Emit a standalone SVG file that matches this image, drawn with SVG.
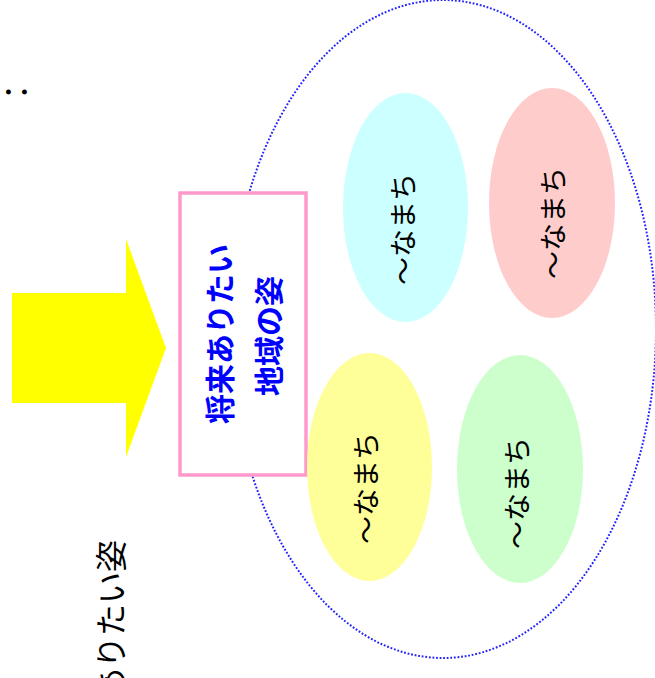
<svg xmlns="http://www.w3.org/2000/svg" width="655" height="678" viewBox="0 0 655 678">
  <style>
    .jp { font-family: "Noto Sans CJK JP", "Noto Sans", sans-serif; }
    .machi { font-size: 28px; fill: #000; dominant-baseline: central; text-anchor: middle; }
    .title { font-size: 30px; font-weight: bold; fill: #0000ff; dominant-baseline: central; text-anchor: middle; }
    .bubble { stroke: none; }
  </style>
  <rect width="655" height="678" fill="#ffffff"/>

  <!-- leftover heading text at the edges -->
  <g id="heading">
    <text class="jp" font-size="32" fill="#000" dominant-baseline="central" text-anchor="middle" transform="translate(14,92) rotate(-90)">：</text>
    <text class="jp" font-size="32" fill="#000" dominant-baseline="central" text-anchor="end" transform="translate(109,540) rotate(-90)">ありたい姿</text>
  </g>

  <!-- big arrow pointing right -->
  <g id="arrow">
    <polygon points="12,293 126,293 126,239 166,348 126,457 126,403 12,403" fill="#ffff00"/>
  </g>

  <!-- dotted boundary of the area -->
  <g id="area">
    <ellipse cx="443" cy="329" rx="213" ry="329" fill="none" stroke="#2222ff" stroke-width="2" stroke-dasharray="1.8 1.8"/>
  </g>

  <!-- goal box, drawn over the area boundary -->
  <g id="goal">
    <rect x="180" y="193" width="126" height="282" fill="#ffffff" stroke="#ff99cc" stroke-width="3.5"/>
    <text class="jp title" transform="translate(218,334) rotate(-90)">将来ありたい</text>
    <text class="jp title" transform="translate(267,336) rotate(-90)">地域の姿</text>
  </g>

  <g id="town-cyan">
    <ellipse class="bubble" cx="405.5" cy="207.5" rx="62.5" ry="114.5" fill="#ccffff"/>
    <text class="jp machi" transform="translate(402,229) rotate(-90)">～なまち</text>
  </g>
  <g id="town-pink">
    <ellipse class="bubble" cx="552" cy="203" rx="63" ry="115" fill="#ffcccc"/>
    <text class="jp machi" transform="translate(552,223) rotate(-90)">～なまち</text>
  </g>
  <g id="town-yellow">
    <ellipse class="bubble" cx="369.5" cy="467" rx="62.5" ry="114" fill="#ffff99"/>
    <text class="jp machi" transform="translate(364.5,488) rotate(-90)">～なまち</text>
  </g>
  <g id="town-green">
    <ellipse class="bubble" cx="520" cy="469" rx="63" ry="114" fill="#ccffcc"/>
    <text class="jp machi" transform="translate(516,493) rotate(-90)">～なまち</text>
  </g>

  <g id="connectors"></g>
</svg>
